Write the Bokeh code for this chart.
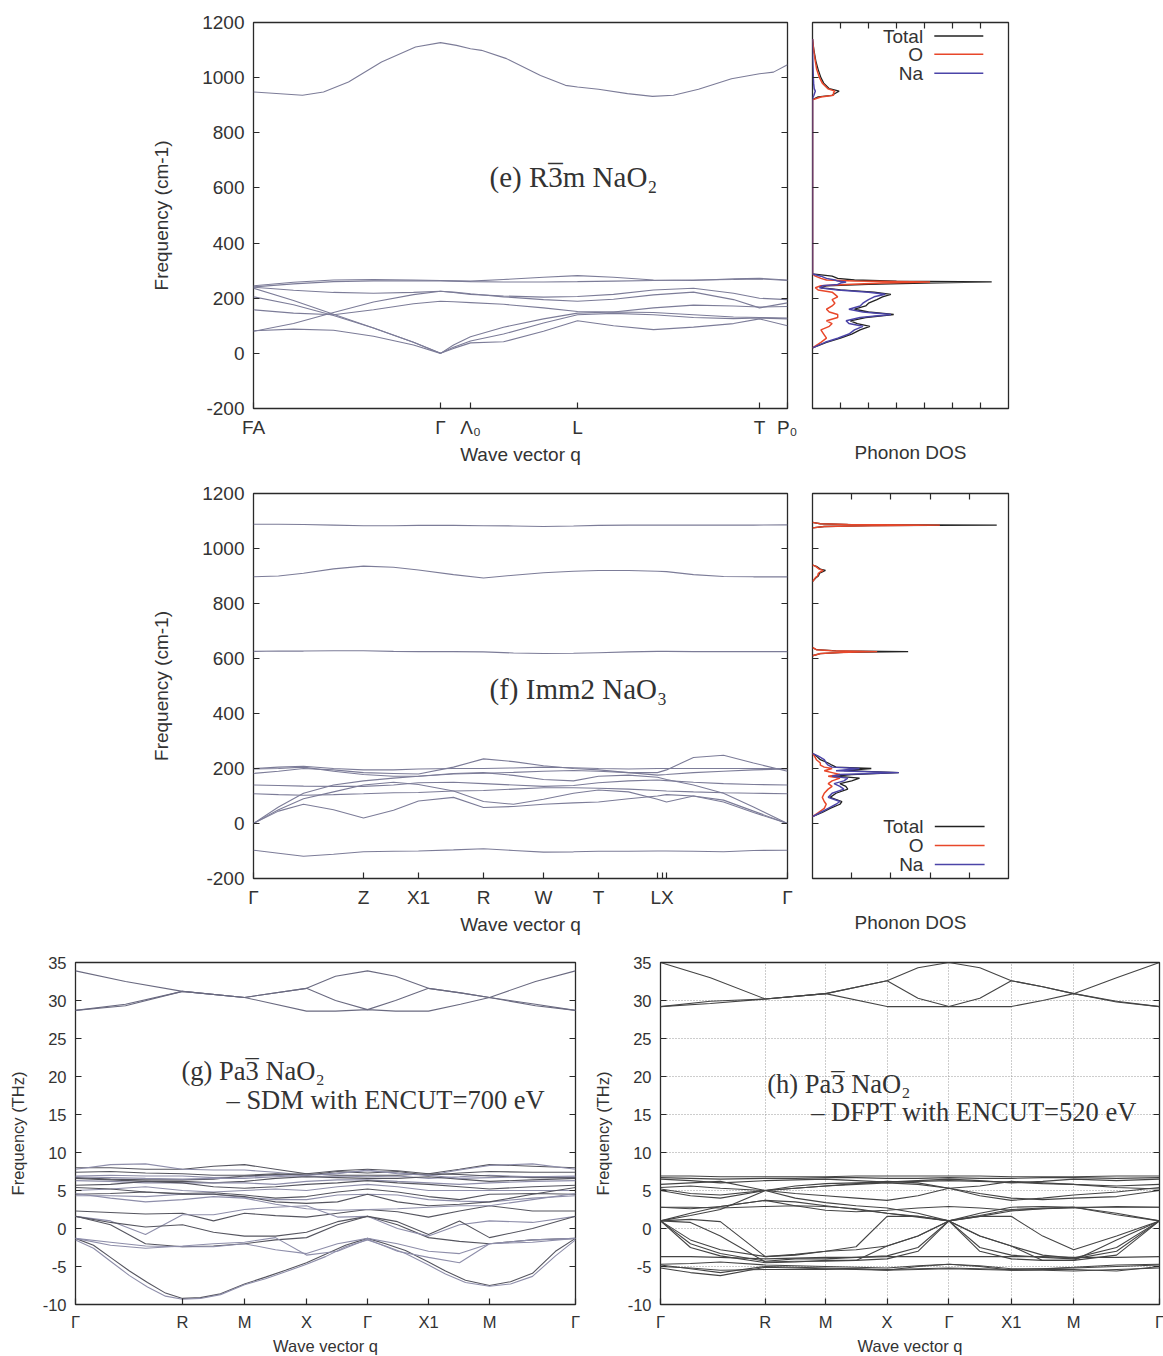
from bokeh.plotting import figure
from bokeh.models import FixedTicker, LinearAxis, Label, Range1d
from bokeh.layouts import column, row
from bokeh.embed import file_html
from bokeh.resources import INLINE
from bokeh.core.properties import value

SANS = "Liberation Sans"
SERIF = "Liberation Serif"

# ---------------- panel (e) R-3m NaO2 ----------------
e_ticks = [0, 1.87, 2.17, 3.24, 5.06, 5.34]
e_tick_labels = ["FA", "Γ", "Λ₀", "L", "T", "P₀"]
e_q_hi = [0, 0.49, 0.70, 0.95, 1.28, 1.62, 1.87, 2.03, 2.17, 2.28, 2.53, 2.87, 3.12, 3.24, 3.45, 3.74, 3.99, 4.2, 4.45, 4.78, 5.06, 5.2, 5.34]
e_hi = [948, 936, 948, 984, 1057, 1111, 1127, 1117, 1105, 1099, 1069, 1008, 972, 966, 958, 942, 932, 936, 958, 996, 1014, 1020, 1047]
e_q = [0, 0.4, 0.8, 1.2, 1.6, 1.87, 2.0, 2.17, 2.5, 2.9, 3.24, 3.6, 4.0, 4.4, 4.8, 5.06, 5.34]
e_b1 = [245, 258, 266, 268, 266, 264, 263, 262, 268, 276, 282, 276, 266, 264, 270, 272, 266]
e_b2 = [241, 252, 260, 263, 263, 263, 262, 260, 259, 259, 260, 262, 264, 266, 268, 270, 264]
e_b3 = [240, 229, 221, 218, 221, 225, 221, 214, 208, 204, 206, 214, 230, 236, 218, 200, 195]
e_b4 = [80, 108, 148, 186, 213, 225, 222, 216, 205, 195, 189, 196, 212, 222, 195, 165, 183]
e_b5 = [158, 146, 140, 158, 180, 189, 187, 184, 178, 165, 152, 150, 165, 175, 172, 168, 170]
e_a1 = [236, 192, 142, 92, 40, 0, 30, 60, 95, 125, 146, 150, 148, 140, 132, 130, 128]
e_a2 = [205, 176, 137, 92, 40, 0, 22, 45, 70, 110, 140, 145, 140, 130, 126, 128, 125]
e_a3 = [82, 88, 84, 62, 30, 0, 18, 38, 42, 80, 118, 100, 86, 95, 108, 125, 100]

# DOS (e)
e_dos_f_lo = [20, 40, 55, 70, 85, 98, 108, 118, 130, 141, 150, 160, 172, 182, 195, 205, 214, 222, 230, 238, 245, 250, 255, 259, 262, 266, 272, 280, 288]
e_dos_tot_lo = [0, 0.5, 1.0, 1.4, 1.7, 2.05, 1.6, 1.35, 1.9, 2.9, 2.0, 1.5, 1.9, 2.0, 2.3, 2.5, 2.8, 2.2, 1.0, 0.3, 0.5, 2.0, 4.0, 6.4, 3.0, 1.5, 0.9, 0.7, 0]
e_dos_o_lo = [0, 0.3, 0.5, 0.4, 0.3, 0.6, 0.7, 0.5, 0.9, 0.9, 0.6, 0.5, 0.7, 0.8, 0.7, 0.9, 0.8, 0.7, 0.2, 0.1, 0.3, 1.2, 2.5, 4.2, 1.5, 0.5, 0.3, 0.1, 0]
e_dos_na_lo = [0, 0.45, 0.9, 1.3, 1.5, 1.8, 1.3, 1.2, 1.7, 2.8, 1.8, 1.3, 1.7, 1.8, 2.0, 2.2, 2.6, 2.0, 0.9, 0.25, 0.35, 0.9, 1.0, 1.2, 0.9, 0.8, 0.5, 0.3, 0]
e_dos_f_hi = [920, 930, 936, 945, 951, 960, 980, 1000, 1030, 1060, 1100, 1140]
e_dos_tot_hi = [0, 0.2, 0.7, 0.85, 0.95, 0.6, 0.4, 0.3, 0.2, 0.12, 0.05, 0]
e_dos_o_hi = [0, 0.3, 0.75, 0.75, 0.8, 0.55, 0.35, 0.25, 0.15, 0.1, 0.04, 0]
e_dos_na_hi = [0, 0.02, 0.05, 0.08, 0.1, 0.06, 0.04, 0.03, 0.02, 0.01, 0.0, 0]

# ---------------- panel (f) Imm2 NaO3 ----------------
f_ticks = [0, 1.10, 1.65, 2.30, 2.90, 3.45, 4.04, 4.085, 4.13, 5.34]
f_tick_labels = ["Γ", "Z", "X1", "R", "W", "T", "", "LX", "", "Γ"]
f_q = [0, 0.25, 0.5, 0.8, 1.1, 1.4, 1.65, 2.0, 2.3, 2.6, 2.9, 3.2, 3.45, 3.75, 4.04, 4.13, 4.4, 4.7, 5.0, 5.34]
f_h1 = [1088, 1088, 1087, 1085, 1083, 1083, 1084, 1084, 1083, 1082, 1080, 1082, 1084, 1085, 1085, 1085, 1085, 1085, 1085, 1086]
f_h2 = [897, 900, 910, 926, 936, 932, 922, 905, 893, 903, 912, 917, 920, 920, 917, 916, 905, 898, 897, 897]
f_h3 = [626, 627, 627, 628, 628, 626, 625, 625, 624, 620, 618, 619, 621, 624, 626, 626, 625, 625, 625, 625]
f_neg = [-97, -108, -119, -112, -103, -101, -100, -96, -92, -98, -104, -103, -101, -101, -100, -100, -101, -103, -98, -97]
f_o1 = [200, 205, 208, 200, 195, 195, 198, 200, 200, 202, 205, 203, 200, 198, 200, 200, 200, 200, 200, 200]
f_o2 = [198, 200, 205, 190, 178, 172, 172, 180, 183, 186, 190, 193, 190, 185, 176, 178, 185, 190, 195, 198]
f_o3 = [182, 190, 200, 195, 185, 182, 180, 205, 235, 225, 210, 200, 195, 185, 185, 195, 240, 248, 220, 190]
f_o4 = [140, 138, 136, 135, 135, 140, 148, 150, 145, 140, 135, 138, 148, 155, 158, 156, 150, 145, 142, 140]
f_o5 = [108, 105, 103, 105, 108, 112, 113, 118, 120, 125, 130, 130, 128, 125, 120, 118, 115, 112, 110, 108]
f_a1 = [0, 60, 110, 140, 155, 165, 172, 182, 185, 175, 160, 155, 172, 176, 168, 160, 140, 110, 60, 0]
f_a2 = [0, 50, 90, 115, 140, 150, 142, 118, 80, 70, 88, 110, 122, 115, 88, 78, 100, 78, 40, 0]
f_a3 = [0, 45, 70, 50, 20, 48, 82, 95, 58, 62, 70, 75, 78, 90, 100, 105, 100, 85, 45, 0]

# DOS (f)
f_dos_f_lo = [25, 40, 55, 70, 80, 95, 110, 125, 135, 145, 155, 165, 172, 178, 185, 192, 200, 205, 212, 220, 232, 245, 255]
f_dos_tot_lo = [0, 0.25, 0.45, 0.7, 0.75, 0.45, 0.6, 0.9, 0.85, 0.7, 1.0, 1.2, 0.6, 1.0, 2.2, 0.8, 1.5, 0.6, 0.5, 0.4, 0.2, 0.1, 0]
f_dos_o_lo = [0, 0.15, 0.3, 0.35, 0.3, 0.25, 0.3, 0.4, 0.5, 0.4, 0.5, 0.7, 0.4, 0.7, 0.5, 0.3, 0.5, 0.3, 0.2, 0.2, 0.1, 0.05, 0]
f_dos_na_lo = [0, 0.2, 0.4, 0.6, 0.7, 0.4, 0.5, 0.8, 0.7, 0.55, 0.8, 0.9, 0.5, 0.7, 2.2, 0.6, 1.2, 0.5, 0.4, 0.35, 0.3, 0.15, 0]
f_dos_f_625 = [610, 618, 622, 625, 628, 632, 640]
f_dos_tot_625 = [0, 0.2, 0.8, 2.44, 0.6, 0.1, 0]
f_dos_o_625 = [0, 0.2, 0.7, 1.65, 0.5, 0.1, 0]
f_dos_f_900 = [880, 895, 900, 910, 915, 920, 925, 935, 940]
f_dos_tot_900 = [0, 0.1, 0.15, 0.18, 0.25, 0.33, 0.2, 0.1, 0]
f_dos_o_900 = [0, 0.08, 0.13, 0.15, 0.2, 0.27, 0.17, 0.08, 0]
f_dos_f_1085 = [1075, 1080, 1083, 1085, 1087, 1090, 1095]
f_dos_tot_1085 = [0, 0.3, 1.5, 4.7, 1.0, 0.2, 0]
f_dos_o_1085 = [0, 0.3, 1.4, 3.25, 0.9, 0.2, 0]

# ---------------- panel (g) Pa-3 NaO2, SDM ----------------
g_ticks = [0, 1.07, 1.69, 2.31, 2.92, 3.53, 4.14, 5.0]
g_tick_labels = ["Γ", "R", "M", "X", "Γ", "X1", "M", "Γ"]
g_qu = [0, 0.5, 1.07, 1.69, 2.31, 2.6, 2.92, 3.2, 3.53, 3.85, 4.14, 4.6, 5.0]
g_u1 = [33.9, 32.5, 31.2, 30.4, 31.6, 33.2, 33.9, 33.2, 31.6, 31.0, 30.4, 32.5, 33.9]
g_u2 = [28.7, 29.5, 31.2, 30.4, 31.6, 30.0, 28.8, 30.0, 31.6, 31.0, 30.4, 29.3, 28.7]
g_u3 = [28.7, 29.3, 31.2, 30.4, 28.6, 28.6, 28.8, 28.6, 28.6, 29.5, 30.4, 29.5, 28.7]
g_qf = [0, 0.18, 0.36, 0.54, 0.72, 0.9, 1.07, 1.25, 1.45, 1.69, 1.9, 2.1, 2.31, 2.5, 2.7, 2.92, 3.1, 3.3, 3.53, 3.7, 3.9, 4.14, 4.35, 4.57, 4.8, 5.0]
g_deep1 = [-1.3, -2.2, -3.9, -5.6, -7.1, -8.5, -9.2, -9.1, -8.6, -7.3, -6.4, -5.5, -4.5, -3.4, -2.2, -1.3, -2.0, -2.9, -4.4, -5.6, -6.8, -7.5, -7.0, -5.9, -3.0, -1.3]
g_deep2 = [-1.5, -2.6, -4.4, -6.2, -7.7, -8.9, -9.3, -9.2, -8.7, -7.4, -6.6, -5.7, -4.7, -3.7, -2.4, -1.5, -2.3, -3.3, -4.8, -6.0, -7.1, -7.6, -7.3, -6.3, -3.6, -1.5]
g_q = [0, 0.35, 0.7, 1.07, 1.38, 1.69, 2.0, 2.31, 2.62, 2.92, 3.22, 3.53, 3.84, 4.14, 4.57, 5.0]
g_low = [
    [1.6, 0.5, -2.0, -2.4, -2.3, -2.0, -1.5, -1.2, 0.5, 1.6, 0.5, -1.2, -1.7, -2.0, -1.5, -1.3],
    [-1.3, -1.8, -2.3, -2.4, -2.4, -2.0, -2.8, -3.3, -2.0, -1.3, -2.0, -3.0, -3.3, -2.0, -1.5, -1.3],
    [2.3, 2.1, 1.9, 2.0, 1.0, 2.0, 1.7, 1.5, 2.0, 2.5, 2.2, 1.5, 2.3, 3.0, 2.3, 2.3],
    [1.6, 1.0, -0.8, 1.8, 1.8, 2.5, 2.8, 3.0, 1.5, 1.6, 0.0, -1.0, 0.5, 1.0, 0.8, 1.6],
    [1.6, 0.8, 0.2, 0.5, -0.5, -1.0, -1.0, -0.5, 0.9, 1.6, 0.9, -0.8, 1.0, -1.2, 0.0, 1.6],
    [-1.3, -2.2, -2.6, -2.3, -2.0, -1.8, -1.2, -3.5, -3.0, -1.4, -3.0, -3.8, -4.5, -2.0, -1.8, -1.3],
]
g_mid = [
    [8.0, 8.0, 7.8, 7.8, 8.2, 8.4, 7.8, 7.2, 7.6, 7.8, 7.6, 7.2, 7.8, 8.4, 8.2, 8.0],
    [7.8, 8.4, 8.5, 7.8, 7.7, 7.7, 7.4, 7.0, 7.3, 7.6, 7.3, 7.0, 7.7, 8.3, 8.5, 7.8],
    [7.4, 7.5, 7.3, 7.2, 7.0, 7.0, 7.2, 7.0, 7.5, 7.3, 7.5, 7.0, 7.3, 7.5, 7.4, 7.4],
    [6.9, 7.0, 6.9, 6.9, 6.7, 6.8, 7.0, 6.8, 6.9, 6.8, 6.9, 6.6, 6.8, 7.0, 6.8, 6.9],
    [6.6, 6.4, 6.2, 6.2, 6.0, 6.2, 6.6, 6.8, 6.7, 6.6, 6.6, 6.8, 6.5, 6.2, 6.4, 6.6],
    [6.3, 6.2, 6.0, 6.0, 6.0, 6.0, 5.8, 6.2, 6.4, 6.4, 6.2, 6.0, 5.8, 6.0, 6.2, 6.3],
    [5.7, 5.8, 6.2, 6.0, 5.5, 5.3, 5.5, 5.8, 6.0, 6.3, 6.0, 5.8, 5.5, 5.2, 5.5, 5.7],
    [5.0, 5.2, 5.5, 5.0, 4.8, 5.0, 5.2, 5.0, 5.5, 5.8, 5.5, 5.0, 5.0, 5.0, 5.0, 5.0],
    [4.5, 4.6, 4.8, 4.6, 4.7, 4.4, 4.0, 4.2, 4.8, 5.2, 4.8, 4.2, 3.8, 4.5, 4.6, 4.5],
    [4.3, 4.3, 4.2, 4.5, 4.5, 4.1, 3.8, 3.8, 4.4, 4.5, 4.4, 3.8, 3.6, 3.5, 4.0, 4.3],
    [5.4, 5.2, 4.8, 4.5, 4.5, 4.2, 3.5, 3.3, 3.5, 4.5, 3.5, 3.0, 3.2, 3.5, 4.5, 5.4],
    [4.6, 4.0, 3.5, 3.8, 4.2, 4.0, 3.2, 2.6, 2.4, 2.5, 2.6, 2.8, 3.0, 3.0, 3.8, 4.6],
    [6.7, 6.5, 6.4, 6.4, 6.5, 6.9, 7.1, 7.2, 7.0, 7.0, 7.0, 7.2, 7.1, 6.9, 6.7, 6.7],
    [6.8, 6.7, 6.6, 6.5, 6.6, 6.6, 6.8, 7.0, 7.2, 7.7, 7.2, 7.0, 6.6, 6.7, 6.8, 6.8],
]

# ---------------- panel (h) Pa-3 NaO2, DFPT ----------------
h_ticks = [0, 1.05, 1.655, 2.27, 2.89, 3.515, 4.14, 5.0]
h_tick_labels = ["Γ", "R", "M", "X", "Γ", "X1", "M", "Γ"]
h_qu = [0, 0.5, 1.05, 1.655, 2.27, 2.58, 2.89, 3.2, 3.515, 3.83, 4.14, 4.57, 5.0]
h_u1 = [35.0, 33.0, 30.2, 30.9, 32.6, 34.3, 35.0, 34.3, 32.6, 31.8, 30.9, 33.0, 35.0]
h_u2 = [29.2, 29.6, 30.2, 30.9, 32.6, 30.3, 29.2, 30.3, 32.6, 31.8, 30.9, 29.8, 29.2]
h_u3 = [29.2, 29.9, 30.2, 30.9, 29.2, 29.2, 29.2, 29.2, 29.2, 30.0, 30.9, 29.9, 29.2]
h_q = [0, 0.3, 0.6, 1.05, 1.35, 1.655, 1.96, 2.27, 2.58, 2.89, 3.2, 3.515, 3.83, 4.14, 4.57, 5.0]
h_low = [
    [6.9, 6.9, 6.8, 6.8, 6.8, 6.8, 6.9, 6.9, 6.9, 6.9, 6.9, 6.8, 6.8, 6.8, 6.9, 6.9],
    [6.7, 6.6, 6.5, 6.6, 6.6, 6.7, 6.7, 6.6, 6.6, 6.7, 6.6, 6.6, 6.7, 6.7, 6.6, 6.7],
    [6.5, 6.3, 6.0, 6.3, 6.4, 6.5, 6.3, 6.1, 6.3, 6.5, 6.3, 6.0, 6.2, 6.5, 6.3, 6.5],
    [5.8, 6.0, 6.2, 5.0, 5.3, 5.6, 5.9, 6.2, 6.0, 5.3, 5.6, 6.2, 6.0, 5.8, 5.6, 5.8],
    [5.4, 5.6, 5.3, 5.0, 4.6, 4.3, 4.0, 3.7, 4.3, 5.3, 4.3, 3.7, 4.0, 4.4, 4.8, 5.4],
    [5.0, 4.3, 4.0, 5.0, 5.3, 5.6, 5.8, 6.0, 5.8, 5.3, 4.6, 4.0, 3.8, 4.0, 4.2, 5.0],
    [5.2, 4.6, 4.4, 5.0, 5.6, 5.9, 6.0, 6.1, 6.2, 6.3, 6.2, 6.1, 5.9, 5.8, 5.4, 5.2],
    [1.0, 2.0, 2.9, 3.7, 3.5, 3.0, 2.5, 2.0, 1.5, 1.0, 1.6, 2.3, 2.6, 2.8, 2.0, 1.0],
    [2.8, 2.8, 2.7, 2.9, 3.0, 2.9, 2.6, 2.0, 1.6, 1.0, 1.7, 2.5, 2.7, 2.8, 2.8, 2.8],
    [1.0, 1.7, 2.5, 5.0, 4.0, 3.4, 3.0, 2.7, 2.0, 1.0, 2.0, 2.8, 2.9, 2.8, 1.8, 1.0],
    [1.0, -1.5, -2.8, -3.7, -3.5, -3.0, -2.8, -2.3, -1.0, 1.0, -1.0, -2.3, -3.5, -3.9, -2.5, 1.0],
    [1.0, -2.0, -3.3, -4.3, -4.0, -4.0, -3.8, -3.6, -2.5, 1.0, -2.5, -3.5, -3.8, -4.0, -3.0, 1.0],
    [1.0, -2.5, -3.6, -4.5, -4.4, -4.2, -4.2, -4.0, -3.0, 1.0, -3.0, -4.0, -4.2, -4.2, -3.5, 1.0],
    [1.0, 1.2, 0.9, -3.7, -3.4, -3.0, -2.4, 1.6, 1.6, 1.0, 1.6, 1.6, -1.0, -2.8, -1.0, 1.0],
    [1.0, 0.8, -1.0, -4.4, -4.3, -4.3, -4.2, -2.3, -1.0, 1.0, -1.0, -2.3, -4.2, -4.2, -1.5, 1.0],
    [-3.7, -3.7, -3.8, -4.0, -3.9, -3.8, -3.8, -3.7, -3.7, -3.7, -3.7, -3.7, -3.7, -3.8, -3.8, -3.7],
    [-4.7, -4.6, -4.4, -4.8, -4.9, -5.0, -5.1, -5.2, -4.9, -4.7, -4.9, -5.3, -5.3, -5.1, -4.8, -4.7],
    [-4.8, -5.3, -5.8, -5.0, -5.1, -5.2, -5.3, -5.4, -5.3, -5.2, -5.3, -5.4, -5.3, -5.2, -5.0, -4.8],
    [-5.2, -5.8, -6.2, -5.1, -5.2, -5.3, -5.4, -5.5, -5.4, -5.3, -5.4, -5.5, -5.5, -5.6, -5.4, -5.2],
    [-5.0, -5.2, -5.5, -5.4, -5.4, -5.4, -5.3, -5.5, -5.0, -4.7, -5.0, -5.5, -5.4, -5.4, -5.6, -5.0],
    [2.8, 2.6, 2.9, 3.7, 3.0, 2.4, 2.2, 2.4, 2.7, 2.9, 2.7, 2.4, 2.6, 2.7, 2.9, 2.8],
]

cm_ticks = [-200, 0, 200, 400, 600, 800, 1000, 1200]
thz_ticks = [-10, -5, 0, 5, 10, 15, 20, 25, 30, 35]

INK = "#2a2a2a"
TXT = "#333333"
BAND = "#7c7c98"
C_TOT, C_O, C_NA = "#222222", "#e8472a", "#4b44a8"


def make_fig(fw, fh, xr, yr, bl, br, bt, bb):
    p = figure(frame_width=fw, frame_height=fh, x_range=Range1d(*xr), y_range=Range1d(*yr),
               min_border_left=bl, min_border_right=br, min_border_top=bt, min_border_bottom=bb,
               output_backend="svg", toolbar_location=None)
    p.outline_line_color = INK
    p.outline_line_width = 1.3
    p.grid.visible = False
    p.background_fill_color = "white"
    p.border_fill_color = "white"
    return p


def style_axis(ax, fs, ticks, labels=None, show=True):
    ax.ticker = FixedTicker(ticks=ticks)
    ax.axis_line_color = None
    ax.major_tick_in = 6
    ax.major_tick_out = 0
    ax.minor_tick_in = 0
    ax.minor_tick_out = 0
    ax.major_tick_line_color = INK
    ax.major_tick_line_width = 1.2
    ax.major_label_text_font = SANS
    ax.major_label_text_color = TXT
    ax.major_label_text_font_size = fs if show else "0px"
    ax.axis_label_text_font = SANS
    ax.axis_label_text_font_style = "normal"
    ax.axis_label_text_font_size = fs
    ax.axis_label_text_color = TXT
    if labels is None:
        labels = [str(t) for t in ticks]
    ax.major_label_overrides = {t: l for t, l in zip(ticks, labels)}


def mirror(p, side, ticks):
    ax = LinearAxis()
    style_axis(ax, "0px", ticks, show=False)
    ax.major_label_standoff = 0
    p.add_layout(ax, side)


def band_panel(xmax, ymin, ymax, bl, br, bt, fw, fh, bb, xt, xl, yt, fs, ylabel):
    p = make_fig(fw, fh, (0, xmax), (ymin, ymax), bl, br, bt, bb)
    style_axis(p.xaxis[0], fs, xt, xl)
    style_axis(p.yaxis[0], fs, yt)
    p.xaxis[0].axis_label = "Wave vector q"
    p.xaxis[0].major_label_standoff = 8
    p.xaxis[0].axis_label_standoff = 3
    p.yaxis[0].axis_label = ylabel
    p.yaxis[0].major_label_standoff = 9
    p.yaxis[0].axis_label_standoff = 27
    mirror(p, "right", yt)
    return p


def dos_panel(xmax, bt, fh, bb, xt, fs):
    p = make_fig(196, fh, (0, xmax), (-200, 1200), 15, 10, bt, bb)
    style_axis(p.xaxis[0], fs, xt, show=False)
    style_axis(p.yaxis[0], fs, cm_ticks, show=False)
    p.xaxis[0].axis_label = "Phonon DOS"
    p.xaxis[0].axis_label_standoff = 33
    mirror(p, "above", xt)
    return p


def legend(p, xs, xe, xt, ys, fs):
    for lab, col, y in zip(["Total", "O", "Na"], [C_TOT, C_O, C_NA], ys):
        p.text(x=[xt], y=[y], text=[lab], text_font=value(SANS), text_font_size=fs,
               text_color=TXT, text_align="right", text_baseline="middle")
        p.segment(x0=[xs], y0=[y], x1=[xe], y1=[y], line_color=col, line_width=1.5)


def formula(p, x, y, text, bar_em, fs_px):
    """Serif label; an underscore raised above the digit 3 stands in for its overbar."""
    fs = "%.1fpx" % fs_px
    p.add_layout(Label(x=x, y=y, text=text, text_font=SERIF, text_font_size=fs,
                       text_color=TXT, text_baseline="middle"))
    if bar_em is not None:
        p.add_layout(Label(x=x, y=y, text="_", text_font=SERIF, text_font_size=fs,
                           x_offset=bar_em * fs_px, y_offset=0.9 * fs_px,
                           text_color=TXT, text_baseline="middle"))


FS = "19px"
# ---- (e)
pe = band_panel(5.34, -200, 1200, 253, 10, 22, 534, 386, 62, e_ticks, e_tick_labels, cm_ticks, FS, "Frequency (cm-1)")
pe.line(e_q_hi, e_hi, line_color=BAND, line_width=1.1)
for b in [e_b1, e_b2, e_b3, e_b4, e_b5, e_a1, e_a2, e_a3]:
    pe.line(e_q, b, line_color=BAND, line_width=1.1)
formula(pe, 2.36, 640, "(e) R3m NaO\u2082", 2.027, 29)

pde = dos_panel(7, 22, 386, 62, [1, 2, 3, 4, 5, 6], FS)
pde.line(e_dos_tot_lo + e_dos_tot_hi, e_dos_f_lo + e_dos_f_hi, line_color=C_TOT, line_width=1.3)
pde.line(e_dos_o_lo + e_dos_o_hi, e_dos_f_lo + e_dos_f_hi, line_color=C_O, line_width=1.5)
pde.line(e_dos_na_lo + e_dos_na_hi, e_dos_f_lo + e_dos_f_hi, line_color=C_NA, line_width=1.5)
legend(pde, 4.35, 6.1, 3.95, [1151, 1085, 1016], FS)

# ---- (f)
pf = band_panel(5.34, -200, 1200, 253, 10, 23, 534, 385, 62, f_ticks, f_tick_labels, cm_ticks, FS, "Frequency (cm-1)")
for b in [f_h1, f_h2, f_h3, f_neg, f_o1, f_o2, f_o3, f_o4, f_o5, f_a1, f_a2, f_a3]:
    pf.line(f_q, b, line_color=BAND, line_width=1.1)
formula(pf, 2.36, 488, "(f) Imm2 NaO\u2083", None, 29)

pdf = dos_panel(5, 23, 385, 62, [1, 2, 3, 4], FS)
for fr, tot, o, na in [(f_dos_f_lo, f_dos_tot_lo, f_dos_o_lo, f_dos_na_lo),
                       (f_dos_f_625, f_dos_tot_625, f_dos_o_625, None),
                       (f_dos_f_900, f_dos_tot_900, f_dos_o_900, None),
                       (f_dos_f_1085, f_dos_tot_1085, f_dos_o_1085, None)]:
    pdf.line(tot, fr, line_color=C_TOT, line_width=1.3)
    pdf.line(o, fr, line_color=C_O, line_width=1.5)
    if na is not None:
        pdf.line(na, fr, line_color=C_NA, line_width=1.5)
legend(pdf, 3.12, 4.39, 2.83, [-11, -80, -149], FS)

# ---- (g)
FS2 = "16.5px"
pg = band_panel(5.0, -10, 35, 75, 15, 22, 500, 342, 52, g_ticks, g_tick_labels, thz_ticks, FS2, "Frequency (THz)")
pg.yaxis[0].axis_label_standoff = 13
for b in [g_u1, g_u2, g_u3]:
    pg.line(g_qu, b, line_color="#6a6a80", line_width=1.1)
pg.line(g_qf, g_deep1, line_color="#55555f", line_width=1.1)
pg.line(g_qf, g_deep2, line_color="#8e8eaa", line_width=1.1)
for i, b in enumerate(g_low + g_mid):
    pg.line(g_q, b, line_color="#55555f" if i % 2 == 0 else "#8e8eaa", line_width=1.1)
formula(pg, 1.06, 20.7, "(g) Pa3 NaO\u2082", 2.416, 26.5)
formula(pg, 1.51, 16.9, "\u2013 SDM with ENCUT=700 eV", None, 26.5)

# ---- (h)
ph = band_panel(5.0, -10, 35, 66, 8, 22, 499, 342, 52, h_ticks, h_tick_labels, thz_ticks, FS2, "Frequency (THz)")
ph.yaxis[0].axis_label_standoff = 13
ph.grid.visible = True
ph.xgrid.ticker = FixedTicker(ticks=h_ticks)
ph.ygrid.ticker = FixedTicker(ticks=thz_ticks)
ph.grid.grid_line_color = "#9a9a9a"
ph.grid.grid_line_dash = "1 2"
ph.grid.grid_line_width = 1
for b in [h_u1, h_u2, h_u3]:
    ph.line(h_qu, b, line_color="#444444", line_width=1.1)
for b in h_low:
    ph.line(h_q, b, line_color="#444444", line_width=1.1)
formula(ph, 1.07, 19.0, "(h) Pa3 NaO\u2082", 2.416, 26.5)
formula(ph, 1.51, 15.3, "\u2013 DFPT with ENCUT=520 eV", None, 26.5)

layout = column(row(pe, pde), row(pf, pdf), row(pg, ph))
open("out.html", "w").write(file_html(layout, INLINE))
